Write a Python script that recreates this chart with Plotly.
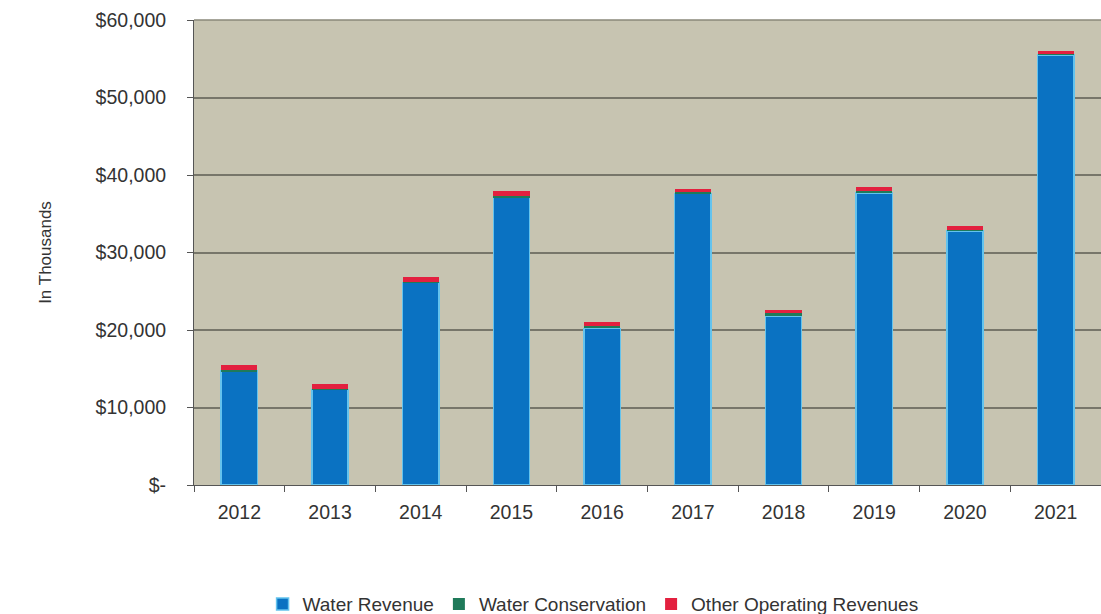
import plotly.graph_objects as go

years = ["2012", "2013", "2014", "2015", "2016", "2017", "2018", "2019", "2020", "2021"]
water_revenue = [14700, 12300, 26100, 37100, 20200, 37600, 21800, 37700, 32800, 55500]
water_conservation = [100, 100, 100, 200, 300, 200, 400, 300, 100, 100]
other_operating = [700, 600, 600, 700, 500, 400, 400, 500, 500, 400]

y_tickvals = [0, 10000, 20000, 30000, 40000, 50000, 60000]
y_ticktext = ["$-", "$10,000", "$20,000", "$30,000", "$40,000", "$50,000", "$60,000"]

fig = go.Figure()
fig.add_trace(go.Bar(x=years, y=water_revenue, name="Water Revenue",
                     marker=dict(color="#0a72c2", line=dict(color="#63c3ee", width=1.5))))
fig.add_trace(go.Bar(x=years, y=water_conservation, name="Water Conservation",
                     marker=dict(color="#1f7a5a", line=dict(width=0))))
fig.add_trace(go.Bar(x=years, y=other_operating, name="Other Operating Revenues",
                     marker=dict(color="#e3203f", line=dict(width=0))))

fig.update_layout(
    barmode="stack",
    bargap=0.6,
    width=1101, height=614,
    margin=dict(l=194, r=0, t=20, b=129, autoexpand=False),
    paper_bgcolor="white",
    plot_bgcolor="#c7c4b1",
    font=dict(family="Liberation Sans, Arial, sans-serif", size=19, color="#333333"),
    showlegend=True,
    legend=dict(orientation="h", x=0.44, xanchor="center", y=-0.256, yanchor="middle",
                font=dict(size=19, color="#333333"), itemwidth=30, traceorder="normal"),
    xaxis=dict(type="category", showgrid=False, showline=True, linecolor="#555555", linewidth=1,
               ticks="outside", tickson="boundaries", ticklen=6, tickcolor="#555555",
               ticklabelstandoff=10, tickfont=dict(size=19.5)),
    yaxis=dict(range=[0, 60000], tickvals=y_tickvals, ticktext=y_ticktext,
               showgrid=True, gridcolor="#77766a", gridwidth=1.5,
               showline=True, linecolor="#555555", linewidth=1, mirror=False,
               ticks="outside", ticklen=6, tickcolor="#555555", ticklabelstandoff=17,
               tickfont=dict(size=19.5), zeroline=False,
               title=dict(text="In Thousands", standoff=39, font=dict(size=17))),
)
fig.add_shape(type="line", xref="paper", yref="paper", x0=0, x1=1, y0=1, y1=1,
              line=dict(color="#8a887a", width=1.5))

fig.write_html("out.html", config={"displayModeBar": False},
               post_script="document.body.style.margin='0';document.body.style.overflow='hidden';")
